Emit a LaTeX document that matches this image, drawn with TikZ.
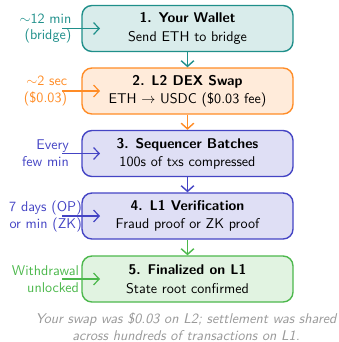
\documentclass[tikz,border=0pt]{standalone}
\usetikzlibrary{arrows.meta}
\begin{document}
\begin{tikzpicture}[x=0.708pt,y=-0.708pt,font=\sffamily,
  box/.style={draw=#1, fill=#1!17!white, rounded corners=7pt, line width=1pt,
    minimum width=211*0.708pt, minimum height=46*0.708pt, align=center, inner sep=0pt},
  side/.style={text=#1, align=right, inner sep=0pt},
  sidearrow/.style={draw=#1, line width=0.85pt, -{Straight Barb[length=4pt,width=8.5pt]}},
  flow/.style={draw=#1, line width=1pt, -{Straight Barb[length=4pt,width=9pt]}},
  note/.style={text=gray!80, font=\sffamily\itshape, align=center, inner sep=0pt}]
\definecolor{cteal}{HTML}{1F8F8A}
\definecolor{corange}{HTML}{FF8C26}
\definecolor{cindigo}{HTML}{4444C4}
\definecolor{cgreen}{HTML}{4CB84C}
\useasboundingbox (0,0) rectangle (339,342);

\node[box=cteal] (b1) at (187.5,28.5) {\textbf{1. Your Wallet}\\[1pt] Send ETH to bridge};
\node[box=corange] (b2) at (187.5,91) {\textbf{2. L2 DEX Swap}\\[1pt] ETH $\rightarrow$ USDC (\$0.03 fee)};
\node[box=cindigo] (b3) at (187.5,153.5) {\textbf{3. Sequencer Batches}\\[1pt] 100s of txs compressed};
\node[box=cindigo] (b4) at (187.5,216) {\textbf{4. L1 Verification}\\[1pt] Fraud proof or ZK proof};
\node[box=cgreen] (b5) at (187.5,279) {\textbf{5. Finalized on L1}\\[1pt] State root confirmed};

\draw[flow=cteal] (b1.south) -- (b2.north);
\draw[flow=corange] (b2.south) -- (b3.north);
\draw[flow=cindigo] (b3.south) -- (b4.north);
\draw[flow=cgreen] (b4.south) -- (b5.north);

\node[side=cteal] (l1) at (45.5,28.5) {$\sim$12 min\\ (bridge)};
\node[side=corange] (l2) at (45.5,91) {$\sim$2 sec\\ (\$0.03)};
\node[side=cindigo] (l3) at (45.5,153.5) {Every\\ few min};
\node[side=cindigo] (l4) at (45.5,216) {7 days (OP)\\ or min (ZK)};
\node[side=cgreen] (l5) at (45.5,279) {Withdrawal\\ unlocked};

\coordinate (s1) at (62,28.5);   \coordinate (e1) at (100,28.5);
\coordinate (s2) at (62,91);     \coordinate (e2) at (100,91);
\coordinate (s3) at (62,153.5);  \coordinate (e3) at (100,153.5);
\coordinate (s4) at (62,216);    \coordinate (e4) at (100,216);
\coordinate (s5) at (62,279);    \coordinate (e5) at (100,279);
\draw[sidearrow=cteal] (s1) -- (e1);
\draw[sidearrow=corange] (s2) -- (e2);
\draw[sidearrow=cindigo] (s3) -- (e3);
\draw[sidearrow=cindigo] (s4) -- (e4);
\draw[sidearrow=cgreen] (s5) -- (e5);

\node[note] (cap) at (186,326.5) {Your swap was \$0.03 on L2; settlement was shared\\ across hundreds of transactions on L1.};
\end{tikzpicture}
\end{document}
